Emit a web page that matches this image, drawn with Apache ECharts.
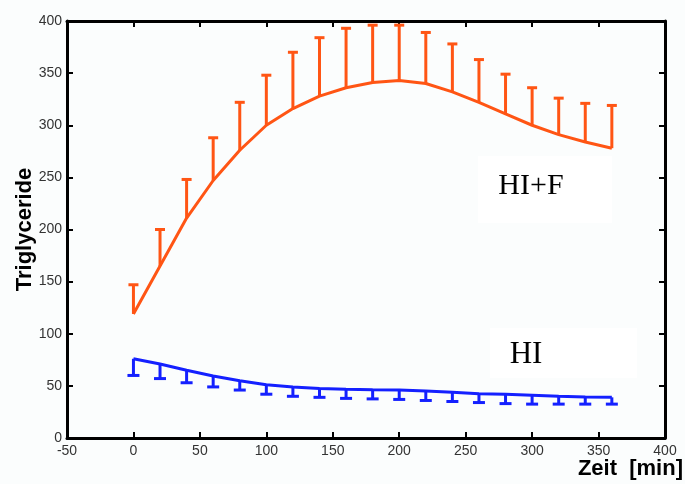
<!DOCTYPE html>
<html>
<head>
<meta charset="utf-8">
<script src="https://cdn.jsdelivr.net/npm/echarts@6/dist/echarts.min.js"></script>
<style>
  html, body { margin: 0; padding: 0; background: #fbfdfd; }
  #chart { width: 685px; height: 484px; }
</style>
</head>
<body>
<div id="chart"></div>
<script>
// Zeitpunkte [min]
const time = [0, 20, 40, 60, 80, 100, 120, 140, 160, 180, 200, 220, 240, 260, 280, 300, 320, 340, 360]

// HI+F: Mittelwert und obere Fehlergrenze
const hifMean = [119, 165, 211, 247, 276, 300, 316, 328, 336, 341, 343, 340, 332, 322, 311, 300, 291, 284, 278]
const hifUpper = [147, 200, 248, 288, 322, 348, 370, 384, 393, 396, 396, 389, 378, 363, 349, 336, 326, 321, 319]

// HI: Mittelwert und untere Fehlergrenze
const hiMean = [76, 71, 65, 59.5, 55, 51, 49, 47.5, 46.7, 46.3, 46, 45, 44, 42.5, 42, 41, 40, 39.3, 39]
const hiLower = [60, 57, 53, 49, 46, 42, 40, 39, 38, 37.5, 37, 36, 35, 34, 33, 32.5, 32.5, 32.5, 32.5]

const xTicks = { min: -50, max: 400, interval: 50 }
const yTicks = { min: 0, max: 400, interval: 50 }

const orange = '#ff5514'
const blue = '#1420ff'

const pairs = (xs, ys) => xs.map((x, i) => [x, ys[i]])

// Fehlerbalken als custom series
const errorBar = (color, capHalf) => (params, api) => {
  const p0 = api.coord([api.value(0), api.value(1)])
  const p1 = api.coord([api.value(0), api.value(2)])
  const style = { stroke: color, lineWidth: 3 }
  return {
    type: 'group',
    children: [
      { type: 'line', shape: { x1: p0[0], y1: p0[1], x2: p1[0], y2: p1[1] }, style },
      { type: 'line', shape: { x1: p1[0] - capHalf, y1: p1[1], x2: p1[0] + capHalf, y2: p1[1] }, style }
    ]
  }
}

const chart = echarts.init(document.getElementById('chart'))

const axisLine = { show: true, onZero: false, lineStyle: { color: '#000', width: 3 } }
const axisTick = { show: true, inside: true, length: 6, lineStyle: { color: '#000', width: 2 } }
const axisLabel = { color: '#333', fontSize: 14, fontFamily: 'Arial, Liberation Sans, sans-serif' }

chart.setOption({
  animation: false,
  backgroundColor: '#fbfdfd',
  grid: { left: 67, right: 20, top: 21, bottom: 46 },
  xAxis: [
    { type: 'value', ...xTicks, axisLine, axisTick, axisLabel: { ...axisLabel, margin: 6 }, splitLine: { show: false } },
    { type: 'value', position: 'top', ...xTicks, axisLine, axisTick, axisLabel: { show: false }, splitLine: { show: false } }
  ],
  yAxis: [
    {
      type: 'value', ...yTicks, axisLine, axisTick, axisLabel: { ...axisLabel, margin: 5 }, splitLine: { show: false },
      name: 'Triglyceride', nameLocation: 'middle', nameRotate: 90, nameGap: 31, nameMoveOverlap: false,
      nameTextStyle: { color: '#000', fontSize: 22, fontWeight: 'bold', fontFamily: 'Arial, Liberation Sans, sans-serif' }
    },
    { type: 'value', position: 'right', ...yTicks, axisLine, axisTick, axisLabel: { show: false }, splitLine: { show: false } }
  ],
  graphic: [
    {
      type: 'group', left: 478, top: 156,
      children: [
        { type: 'rect', shape: { width: 134, height: 67 }, style: { fill: '#fff' } },
        { type: 'text', x: 53, y: 30, style: { text: 'HI+F', fill: '#000', font: '30px "Liberation Serif", "Times New Roman", serif', align: 'center', verticalAlign: 'middle' } }
      ]
    },
    {
      type: 'group', left: 490, top: 328,
      children: [
        { type: 'rect', shape: { width: 147, height: 50 }, style: { fill: '#fff' } },
        { type: 'text', x: 36, y: 27, style: { text: 'HI', fill: '#000', font: '31px "Liberation Serif", "Times New Roman", serif', align: 'center', verticalAlign: 'middle' } }
      ]
    },
    {
      type: 'text', right: 2, top: 458,
      style: { text: 'Zeit  [min]', fill: '#000', font: 'bold 22px Arial, "Liberation Sans", sans-serif' }
    }
  ],
  series: [
    {
      type: 'custom', renderItem: errorBar(orange, 5),
      data: time.map((t, i) => [t, hifMean[i], hifUpper[i]]), z: 2
    },
    {
      type: 'line', data: pairs(time, hifMean), showSymbol: false, symbol: 'none',
      lineStyle: { color: orange, width: 3 }, z: 3
    },
    {
      type: 'custom', renderItem: errorBar(blue, 6),
      data: time.map((t, i) => [t, hiMean[i], hiLower[i]]), z: 2
    },
    {
      type: 'line', data: pairs(time, hiMean), showSymbol: false, symbol: 'none',
      lineStyle: { color: blue, width: 3 }, z: 3
    }
  ]
})
</script>
</body>
</html>
